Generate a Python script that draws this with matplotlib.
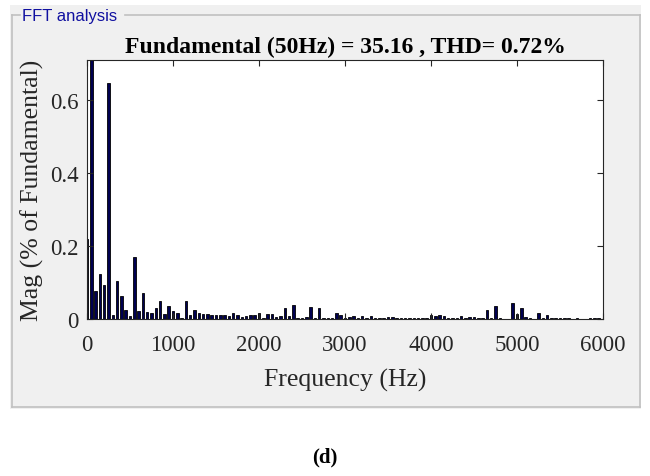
import numpy as np
import matplotlib.pyplot as plt
from matplotlib.patches import Rectangle
from matplotlib.lines import Line2D

# harmonic frequencies (Hz), 0..6000 step 50
freq = np.arange(0, 6001, 50)

# magnitude, % of fundamental (fundamental itself = 100, clipped by ylim)
mag = [0.22, 100, 0.078, 0.124, 0.094, 0.647, 0.012, 0.103, 0.064, 0.025,
       0.008, 0.169, 0.021, 0.072, 0.018, 0.017, 0.029, 0.048, 0.015, 0.037,
       0.023, 0.017, 0.003, 0.049, 0.012, 0.026, 0.016, 0.014, 0.014, 0.012,
       0.010, 0.010, 0.011, 0.008, 0.016, 0.011, 0.005, 0.009, 0.012, 0.011,
       0.016, 0.004, 0.013, 0.015, 0.005, 0.008, 0.030, 0.008, 0.039, 0.004,
       0.004, 0.005, 0.032, 0.004, 0.029, 0.002, 0.003, 0.004, 0.016, 0.011,
       0.004, 0.006, 0.007, 0.003, 0.008, 0.003, 0.008, 0.002, 0.003, 0.002,
       0.006, 0.006, 0.003, 0.002, 0.003, 0.003, 0.004, 0.003, 0.003, 0.002,
       0.011, 0.008, 0.010, 0.007, 0.002, 0.003, 0.004, 0.007, 0.003, 0.005,
       0.005, 0.004, 0.004, 0.025, 0.004, 0.037, 0.002, 0.001, 0.001, 0.045,
       0.015, 0.029, 0.005, 0.002, 0.001, 0.016, 0.003, 0.011, 0.002, 0.002,
       0.002, 0.002, 0.002, 0.001, 0.002, 0.001, 0.001, 0.003, 0.003, 0.002,
       0.001]

xticks = [0, 1000, 2000, 3000, 4000, 5000, 6000]
yticks = [0, 0.2, 0.4, 0.6]

title_txt = "Fundamental (50Hz) = 35.16 , THD= 0.72%"

fig = plt.figure(figsize=(6.5, 4.77), dpi=100, facecolor="white")
W, H = 650.0, 477.0

# grey panel + groupbox
fig.patches.append(Rectangle((10 / W, 1 - 410 / H), 631 / W, 404 / H,
                             transform=fig.transFigure, facecolor="#f0f0f0",
                             edgecolor="none", zorder=0))
box = "#c0c0c0"
fig.add_artist(Line2D([12 / W, 20 / W], [1 - 16 / H] * 2, color=box, lw=1.2))
fig.add_artist(Line2D([125 / W, 640 / W], [1 - 16 / H] * 2, color=box, lw=1.2))
fig.add_artist(Line2D([12 / W] * 2, [1 - 16 / H, 1 - 408 / H], color=box, lw=1.2))
fig.add_artist(Line2D([640 / W] * 2, [1 - 16 / H, 1 - 408 / H], color=box, lw=1.2))
fig.add_artist(Line2D([12 / W, 640 / W], [1 - 408 / H] * 2, color=box, lw=1.2))
fig.text(22 / W, 1 - 17 / H, "FFT analysis", color="#1010a0", fontsize=12,
         family="Liberation Sans", va="center", ha="left")

ax = fig.add_axes([87 / W, 1 - 320 / H, 516 / W, 259 / H])
ax.set_zorder(3)
ax.bar(freq, mag, width=28, color="#000050", edgecolor="black", linewidth=0.6)
ax.set_xlim(0, 6000)
ax.set_ylim(0, 0.71)
ax.set_xticks(xticks)
ax.set_yticks(yticks)
ax.set_yticklabels(["0", "0.2", "0.4", "0.6"])
ax.tick_params(direction="in", top=True, right=True, length=4, width=0.8,
               labelsize=16.5, colors="#262626")
ax.tick_params(axis="x", pad=11)
ax.tick_params(axis="y", pad=6)
for lab in ax.get_xticklabels() + ax.get_yticklabels():
    lab.set_family("Liberation Serif")
for s in ax.spines.values():
    s.set_color("#262626")
    s.set_linewidth(0.8)

ax.set_title(title_txt, family="Liberation Serif", fontweight="bold",
             fontsize=17, pad=6)
ax.set_xlabel("Frequency (Hz)", family="Liberation Serif", fontsize=18.5,
              color="#262626", labelpad=9)
ax.set_ylabel("Mag (% of Fundamental)", family="Liberation Serif",
              fontsize=18.5, color="#262626", labelpad=4)

fig.text(0.5, 1 - 457 / H, "(d)", family="Liberation Serif", fontweight="bold",
         fontsize=15, ha="center", va="center")

fig.savefig("out.png", dpi=100, facecolor="white")
